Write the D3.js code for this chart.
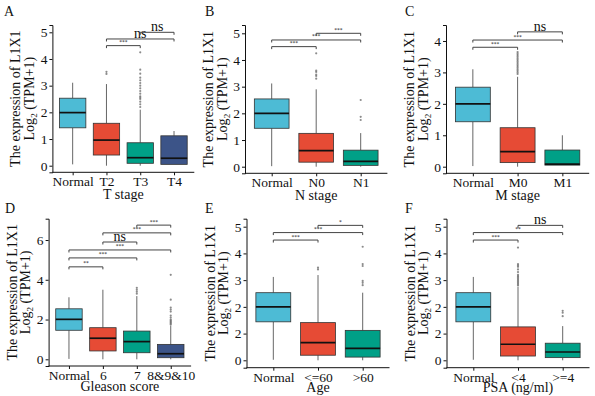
<!DOCTYPE html>
<html><head><meta charset="utf-8">
<script src="https://cdn.jsdelivr.net/npm/d3@7"></script>
<style>
body{margin:0;background:#fff}
svg{display:block}
text{font-family:"Liberation Serif","Times New Roman",serif;fill:#111}
</style>
</head><body>
<svg id="chart" width="595" height="396"></svg>
<script>
// ---------------- DATA ----------------
// box stats: [lowWhisker, q1, median, q3, highWhisker]
const colors = ["#4DBBD5", "#E64B35", "#00A087", "#3C5488"];

const catsA = ["Normal", "T2", "T3", "T4"];
const statsA = [[0.05,1.42,1.99,2.53,3.11],[0,0.4,0.96,1.59,3.06],[0,0.09,0.3,0.86,2.1],[0.05,0.05,0.28,1.12,1.3]];
const outA = [[],[3.44,3.52],[2.2,2.3,2.4,2.5,2.55,2.6,2.7,2.8,2.9,3.0,3.1,3.2,3.3,3.45,3.6,4.25],[]];
const sigA = [["T2","T3",4.5,"***"],["T2","T4",4.75,"ns"],["T3","T4",5.0,"ns"]];
const ticksA = [0,1,2,3,4,5];
const tickLabelsA = ["0","1","2","3","4","5"];

const catsB = ["Normal", "N0", "N1"];
const statsB = [[0.02,1.44,2.0,2.54,3.12],[0,0.17,0.6,1.25,2.9],[0,0.05,0.2,0.62,1.26]];
const outB = [[],[3.3,3.4,3.45,3.55,3.6,4.25],[1.75,1.87,2.5]];
const sigB = [["Normal","N0",4.5,"***"],["Normal","N1",4.75,"***"],["N0","N1",5.0,"***"]];
const ticksB = [0,1,2,3,4,5];
const tickLabelsB = ["0","1","2","3","4","5"];

const catsC = ["Normal", "M0", "M1"];
const statsC = [[0.02,1.43,2.0,2.53,3.1],[0,0.13,0.48,1.24,2.86],[0.05,0.05,0.08,0.53,1.0]];
const outC = [[],[2.95,3.0,3.05,3.1,3.15,3.2,3.25,3.3,3.35,3.4,3.45,3.5,3.55,3.6,3.65],[]];
const sigC = [["Normal","M0",3.8,"***"],["Normal","M1",4.03,"***"],["M0","M1",4.29,"ns"]];
const ticksC = [0,1,2,3,4];
const tickLabelsC = ["0","1","2","3","4"];

const catsD = ["Normal", "6", "7", "8&9&10"];
const statsD = [[0.02,1.46,2.01,2.54,3.12],[0,0.42,1.06,1.59,3.5],[0,0.33,0.89,1.42,3.18],[0,0.08,0.28,0.75,1.7]];
const outD = [[],[],[3.3,3.4,3.5,3.6],[1.75,1.8,1.85,1.9,1.95,2.0,2.1,2.2,2.4,2.5,2.6,3.0,4.25]];
const sigD = [["Normal","6",4.65,"**"],["Normal","7",5.1,"***"],["Normal","8&9&10",5.5,"***"],["6","7",5.9,"ns"],["6","8&9&10",6.36,"***"],["7","8&9&10",6.75,"***"]];
const ticksD = [0,2,4,6];
const tickLabelsD = ["0","2","4","6"];

const catsE = ["Normal", "<=60", ">60"];
const statsE = [[0.02,1.44,2.0,2.53,3.12],[0,0.19,0.66,1.41,3.19],[0,0.12,0.45,1.12,2.53]];
const outE = [[],[3.4,3.47],[2.81,2.9,2.97,3.53,3.6,4.25]];
const sigE = [["Normal","<=60",4.5,"***"],["Normal",">60",4.78,"***"],["<=60",">60",5.05,"*"]];
const ticksE = [0,1,2,3,4,5];
const tickLabelsE = ["0","2","2","3","4","5"];

const catsF = ["Normal", "<4", ">=4"];
const statsF = [[0.02,1.44,2.0,2.53,3.12],[0,0.16,0.6,1.25,2.75],[0,0.1,0.31,0.64,1.28]];
const outF = [[],[2.8,2.85,2.9,2.95,3.0,3.05,3.1,3.15,3.2,3.3,3.4,3.5,3.55,3.6,4.22],[1.65,1.78,1.85]];
const sigF = [["Normal","<4",4.5,"***"],["Normal",">=4",4.78,"**"],["<4",">=4",5.05,"ns"]];
const ticksF = [0,1,2,3,4,5];
const tickLabelsF = ["0","2","2","3","4","5"];

const letters = ["A","B","C","D","E","F"];
const xTitles = ["T stage","N stage","M stage","Gleason score","Age","PSA (ng/ml)"];

// ---------------- LAYOUT ----------------
const layout = [
  {left:52.4, right:194.3, top:25, bottom:172.3, y0:165.7, unit:26.68, lx:4, ly:16, tY:26.5},
  {left:245, right:387.4, top:25, bottom:173.3, y0:166.7, unit:26.68, lx:205, ly:16, tY:26.5},
  {left:446, right:589.2, top:25, bottom:173.3, y0:166.7, unit:31.43, lx:405, ly:16, tY:26.5},
  {left:48.6, right:191.1, top:218.7, bottom:366, y0:359.3, unit:19.88, lx:5, ly:212.5, tY:25},
  {left:246.5, right:389.5, top:218.7, bottom:367.7, y0:360.3, unit:26.72, lx:205, ly:212.5, tY:24},
  {left:446.5, right:589.5, top:218.7, bottom:367.7, y0:360.3, unit:26.72, lx:405, ly:212.5, tY:24}
];

const panels = [
  {cats:catsA, stats:statsA, outs:outA, sig:sigA, ticks:ticksA, tl:tickLabelsA},
  {cats:catsB, stats:statsB, outs:outB, sig:sigB, ticks:ticksB, tl:tickLabelsB},
  {cats:catsC, stats:statsC, outs:outC, sig:sigC, ticks:ticksC, tl:tickLabelsC},
  {cats:catsD, stats:statsD, outs:outD, sig:sigD, ticks:ticksD, tl:tickLabelsD},
  {cats:catsE, stats:statsE, outs:outE, sig:sigE, ticks:ticksE, tl:tickLabelsE},
  {cats:catsF, stats:statsF, outs:outF, sig:sigF, ticks:ticksF, tl:tickLabelsF}
];

const svg = d3.select("#chart");

panels.forEach((p, i) => {
  const L = layout[i];
  const g = svg.append("g");
  const x = d3.scalePoint().domain(p.cats).range([L.left, L.right]).padding(0.6);
  const y = d3.scaleLinear()
    .domain([(L.y0 - L.bottom) / L.unit, (L.y0 - L.top) / L.unit])
    .range([L.bottom, L.top]);
  const bw = x.step() * 0.78;

  // boxes
  p.cats.forEach((c, j) => {
    const s = p.stats[j];
    const cx = x(c);
    g.append("line").attr("x1", cx).attr("x2", cx).attr("y1", y(s[0])).attr("y2", y(s[1]))
      .attr("stroke", "#555").attr("stroke-width", 0.9);
    g.append("line").attr("x1", cx).attr("x2", cx).attr("y1", y(s[3])).attr("y2", y(s[4]))
      .attr("stroke", "#555").attr("stroke-width", 0.9);
    g.selectAll(null).data(p.outs[j]).enter().append("circle")
      .attr("cx", cx).attr("cy", d => y(d)).attr("r", 1.1)
      .attr("fill", "#666").attr("opacity", 0.75);
    g.append("rect").attr("x", cx - bw / 2).attr("width", bw)
      .attr("y", y(s[3])).attr("height", y(s[1]) - y(s[3]))
      .attr("fill", colors[j]).attr("stroke", "#333").attr("stroke-width", 0.8);
    g.append("line").attr("x1", cx - bw / 2).attr("x2", cx + bw / 2)
      .attr("y1", y(s[2])).attr("y2", y(s[2]))
      .attr("stroke", "#111").attr("stroke-width", 1.7);
  });

  // significance brackets
  p.sig.forEach(sg => {
    const x1 = x(sg[0]), x2 = x(sg[1]), yy = y(sg[2]);
    g.append("path")
      .attr("d", `M${x1},${yy + 2.5}V${yy}H${x2}V${yy + 2.5}`)
      .attr("fill", "none").attr("stroke", "#444").attr("stroke-width", 1);
    const isNs = sg[3] === "ns";
    g.append("text").attr("x", (x1 + x2) / 2).attr("y", yy - (isNs ? 1 : 1.5))
      .attr("text-anchor", "middle")
      .attr("font-size", isNs ? 14 : 5.5)
      .attr("fill", isNs ? "#111" : "#555")
      .text(sg[3]);
  });

  // axes
  const ya = g.append("g").attr("transform", `translate(${L.left},0)`)
    .call(d3.axisLeft(y).tickValues(p.ticks).tickFormat((d, k) => p.tl[k]).tickSizeOuter(0).tickSize(3).tickPadding(2));
  const xa = g.append("g").attr("transform", `translate(0,${L.bottom})`)
    .call(d3.axisBottom(x).tickSizeOuter(0).tickSize(3).tickPadding(1.5));
  [ya, xa].forEach(a => {
    a.selectAll("text").attr("font-size", 13.5).attr("fill", "#111")
      .style("font-family", '"Liberation Serif","Times New Roman",serif');
    a.select(".domain").attr("stroke", "#111").attr("stroke-width", 1);
    a.selectAll(".tick line").attr("stroke", "#111");
  });
  xa.select(".domain").attr("d", `M${L.left},0H${L.right}`);

  // axis titles
  g.append("text").attr("x", (L.left + L.right) / 2).attr("y", L.bottom + L.tY)
    .attr("text-anchor", "middle").attr("font-size", 14).text(xTitles[i]);
  const cy = (L.top + L.bottom) / 2;
  g.append("text").attr("transform", `translate(${L.left - 32},${cy}) rotate(-90)`)
    .attr("text-anchor", "middle").attr("font-size", 14).text("The expression of L1X1");
  const t2 = g.append("text").attr("transform", `translate(${L.left - 18.5},${cy}) rotate(-90)`)
    .attr("text-anchor", "middle").attr("font-size", 14);
  t2.append("tspan").text("Log");
  t2.append("tspan").attr("font-size", 9).attr("dy", 3).text("2");
  t2.append("tspan").attr("dy", -3).text(" (TPM+1)");

  // panel letter
  g.append("text").attr("x", L.lx).attr("y", L.ly).attr("font-size", 14).text(letters[i]);
});
</script>
</body></html>
